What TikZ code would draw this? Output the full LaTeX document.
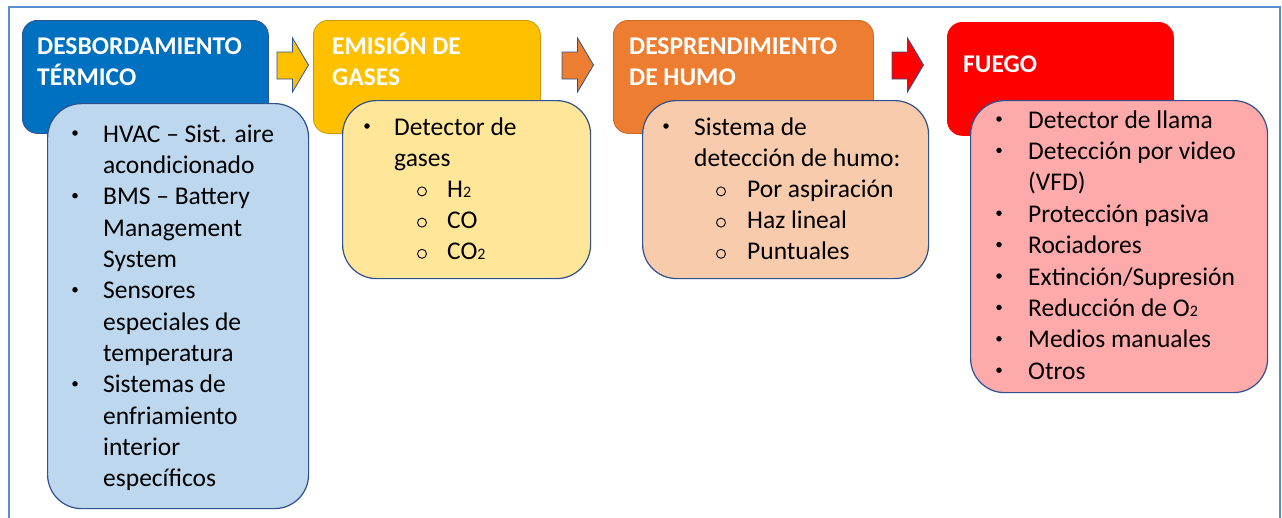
\documentclass[tikz,border=0pt]{standalone}
\usepackage{fontspec}
\setmainfont{Carlito}
\newfontfamily\monof{Liberation Mono}
\definecolor{framec}{RGB}{91,140,205}
\definecolor{hblue}{RGB}{0,112,192}
\definecolor{lblue}{RGB}{189,215,238}
\definecolor{hyel}{RGB}{255,192,0}
\definecolor{lyel}{RGB}{255,230,153}
\definecolor{hora}{RGB}{237,125,49}
\definecolor{lora}{RGB}{248,203,173}
\definecolor{hred}{RGB}{255,0,0}
\definecolor{lred}{RGB}{255,170,170}
\definecolor{edge}{RGB}{47,82,143}
\newcommand{\subtwo}{{\fontsize{16}{16}\selectfont 2}}
\begin{document}
\begin{tikzpicture}[x=1pt,y=-1pt,
  hdr/.style={rounded corners=15pt, minimum width=#1, minimum height=113pt, anchor=north west, inner sep=0pt, line width=0.8pt},
  lst/.style={rounded corners=34pt, anchor=north west, inner sep=0pt, draw=edge, line width=1.2pt},
  htxt/.style={anchor=base west, inner sep=0pt, text=white, font=\bfseries\fontsize{25.5}{31}\selectfont},
  btxt/.style={anchor=base west, inner sep=0pt, font=\fontsize{25.5}{31}\selectfont},
  bul/.style={circle, fill=black, inner sep=0pt, minimum size=5.5pt},
  subbul/.style={circle, draw=black, line width=0.9pt, inner sep=0pt, minimum width=9pt, minimum height=8pt},
  blockarrow/.style={draw=edge, line width=0.8pt, line join=miter}
]
\useasboundingbox (0,0) rectangle (1282,517);
\fill[white] (0,0) rectangle (1282,517);
\draw[framec, line width=2pt] (9,520) -- (9,7) -- (1280,7) -- (1280,520);

% header boxes
\node[hdr=246pt, fill=hblue, draw=edge] (h1) at (22,20) {};
\node[hdr=227pt, fill=hyel, draw=hyel!80!black] (h2) at (313,20) {};
\node[hdr=260pt, fill=hora, draw=hora!85!black] (h3) at (613,20) {};
\node[hdr=226pt, fill=hred, draw=hred] (h4) at (947,22) {};

% header texts
\node[htxt] (t1a) at (37,54) {DESBORDAMIENTO};
\node[htxt] (t1b) at (37,85) {TÉRMICO};
\node[htxt] (t2a) at (332,54) {EMISIÓN DE};
\node[htxt] (t2b) at (332,85) {GASES};
\node[htxt] (t3a) at (629,54) {DESPRENDIMIENTO};
\node[htxt] (t3b) at (629,85) {DE HUMO};
\node[htxt] (t4a) at (963,72) {FUEGO};

% block arrows
\coordinate (a1) at (277,52);
\coordinate (a2) at (562,52);
\coordinate (a3) at (892,52);
\foreach \a/\c in {a1/hyel, a2/hora, a3/hred}{
  \draw[blockarrow, fill=\c] (\a) -- ++(15.5,0) -- ++(0,-14) -- ++(16,27) -- ++(-16,27) -- ++(0,-13) -- ++(-15.5,0) -- cycle;
}

% list boxes
\node[lst, fill=lblue, minimum width=261pt, minimum height=405pt] (l1) at (47,103) {};
\node[lst, fill=lyel, minimum width=248pt, minimum height=178pt] (l2) at (342,100) {};
\node[lst, fill=lora, minimum width=286pt, minimum height=178pt] (l3) at (642,100) {};
\node[lst, fill=lred, minimum width=297pt, minimum height=292pt] (l4) at (970,100) {};

% list 1
\foreach \i/\t in {0/{HVAC – Sist. aire},1/{acondicionado},2/{BMS – Battery},3/{Management},4/{System},5/{Sensores},6/{especiales de},7/{temperatura},8/{Sistemas de},9/{enfriamiento},10/{interior},11/{específicos}}{
  \node[btxt] (p\i) at (103,142+31.35*\i) {\t};
}
\foreach \i in {0,2,5,8}{
  \node[bul] (pb\i) at (75,142-9+31.35*\i) {};
}

% list 2
\node[bul] (qb0) at (367,135-9) {};
\node[btxt] (q0) at (394,135) {Detector de};
\node[btxt] (q1) at (394,166) {gases};
\foreach \i/\t in {2/{H\subtwo},3/{CO},4/{CO\subtwo}}{
  \node[subbul] (qs\i) at (422,135-6+31.2*\i) {};
  \node[btxt] (q\i) at (447,135+31.2*\i) {\t};
}

% list 3
\node[bul] (rb0) at (666,135-9) {};
\node[btxt] (r0) at (694,135) {Sistema de};
\node[btxt] (r1) at (694,166) {detección de humo:};
\foreach \i/\t in {2/{Por aspiración},3/{Haz lineal},4/{Puntuales}}{
  \node[subbul] (rs\i) at (721,135-6+31.2*\i) {};
  \node[btxt] (r\i) at (747,135+31.2*\i) {\t};
}

% list 4
\foreach \i/\t in {0/{Detector de llama},1/{Detección por video},2/{(VFD)},3/{Protección pasiva},4/{Rociadores},5/{Extinción/Supresión},6/{Reducción de O\subtwo},7/{Medios manuales},8/{Otros}}{
  \node[btxt] (s\i) at (1028,128+31.4*\i) {\t};
}
\foreach \i in {0,1,3,4,5,6,7,8}{
  \node[bul] (sb\i) at (999,128-9+31.4*\i) {};
}
\end{tikzpicture}
\end{document}
